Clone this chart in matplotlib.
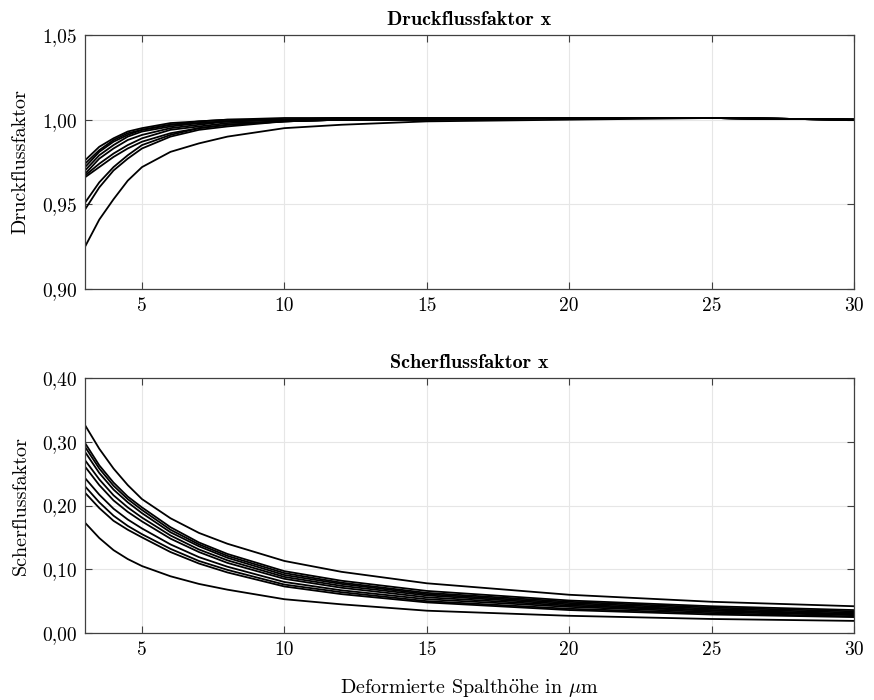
import matplotlib
matplotlib.use("Agg")
import matplotlib.pyplot as plt
from matplotlib.ticker import FuncFormatter

plt.rcParams['font.family'] = ['cmr10', 'DejaVu Serif']
plt.rcParams['mathtext.fontset'] = 'cm'
plt.rcParams['axes.unicode_minus'] = False

# Spalthöhe in um
h = [3, 3.5, 4, 4.5, 5, 6, 7, 8, 10, 12, 15, 20, 25, 30]

# Druckflussfaktor je Oberfläche
phi_p = [
    [0.976, 0.984, 0.989, 0.993, 0.995, 0.998, 0.999, 1.000, 1.001, 1.001, 1.001, 1.001, 1.001, 1.000],
    [0.974, 0.982, 0.988, 0.992, 0.994, 0.997, 0.999, 1.000, 1.000, 1.001, 1.001, 1.001, 1.001, 1.000],
    [0.972, 0.981, 0.987, 0.991, 0.994, 0.997, 0.998, 0.999, 1.000, 1.001, 1.001, 1.001, 1.001, 1.000],
    [0.970, 0.979, 0.985, 0.990, 0.993, 0.996, 0.998, 0.999, 1.000, 1.000, 1.001, 1.001, 1.001, 1.000],
    [0.968, 0.977, 0.983, 0.988, 0.991, 0.995, 0.997, 0.999, 1.000, 1.000, 1.001, 1.001, 1.001, 1.000],
    [0.967, 0.974, 0.980, 0.985, 0.989, 0.994, 0.996, 0.998, 0.999, 1.000, 1.000, 1.001, 1.001, 1.000],
    [0.966, 0.972, 0.978, 0.983, 0.987, 0.992, 0.995, 0.997, 0.999, 1.000, 1.000, 1.001, 1.001, 1.000],
    [0.951, 0.963, 0.972, 0.979, 0.985, 0.991, 0.995, 0.997, 0.999, 1.000, 1.000, 1.001, 1.001, 1.000],
    [0.947, 0.960, 0.970, 0.977, 0.983, 0.990, 0.994, 0.996, 0.999, 1.000, 1.000, 1.001, 1.001, 1.000],
    [0.925, 0.941, 0.953, 0.964, 0.972, 0.981, 0.986, 0.990, 0.995, 0.997, 0.999, 1.000, 1.001, 1.000],
]

# Scherflussfaktor je Oberfläche
phi_s = [
    [0.326, 0.289, 0.258, 0.232, 0.210, 0.180, 0.157, 0.140, 0.113, 0.096, 0.078, 0.060, 0.049, 0.042],
    [0.298, 0.263, 0.236, 0.214, 0.197, 0.166, 0.142, 0.124, 0.097, 0.082, 0.066, 0.051, 0.042, 0.036],
    [0.292, 0.258, 0.231, 0.210, 0.193, 0.162, 0.139, 0.121, 0.094, 0.079, 0.063, 0.049, 0.040, 0.034],
    [0.284, 0.251, 0.225, 0.205, 0.188, 0.158, 0.136, 0.118, 0.091, 0.077, 0.061, 0.047, 0.038, 0.032],
    [0.271, 0.241, 0.216, 0.197, 0.181, 0.153, 0.131, 0.114, 0.088, 0.074, 0.059, 0.045, 0.036, 0.030],
    [0.261, 0.232, 0.208, 0.190, 0.175, 0.148, 0.127, 0.110, 0.085, 0.071, 0.056, 0.043, 0.035, 0.029],
    [0.243, 0.217, 0.195, 0.178, 0.164, 0.139, 0.119, 0.104, 0.080, 0.067, 0.053, 0.041, 0.033, 0.028],
    [0.230, 0.205, 0.184, 0.168, 0.155, 0.132, 0.113, 0.099, 0.076, 0.064, 0.050, 0.038, 0.031, 0.026],
    [0.220, 0.196, 0.176, 0.162, 0.150, 0.127, 0.109, 0.095, 0.073, 0.061, 0.048, 0.036, 0.029, 0.025],
    [0.173, 0.149, 0.130, 0.116, 0.105, 0.089, 0.077, 0.068, 0.053, 0.045, 0.035, 0.027, 0.022, 0.019],
]

x_ticks = [5, 10, 15, 20, 25, 30]
y_ticks_p = [0.90, 0.95, 1.00, 1.05]
y_ticks_s = [0.0, 0.1, 0.2, 0.3, 0.4]

komma = FuncFormatter(lambda v, pos: f"{v:.2f}".replace('.', ','))

fig = plt.figure(figsize=(8.74, 7), dpi=100)
ax1 = fig.add_axes([0.0973, 0.5871, 0.8798, 0.3629])
ax2 = fig.add_axes([0.0973, 0.0957, 0.8798, 0.3643])


def style(ax):
    ax.set_xlim(3, 30)
    ax.set_xticks(x_ticks)
    ax.grid(True, color='#e6e6e6', linewidth=0.8)
    ax.set_axisbelow(True)
    ax.tick_params(direction='in', top=True, right=True, length=5,
                   width=0.8, color='#404040', labelsize=14, pad=6)
    for s in ax.spines.values():
        s.set_color('#404040')
        s.set_linewidth(0.9)
    ax.yaxis.set_major_formatter(komma)


for y in phi_p:
    ax1.plot(h, y, color='black', linewidth=1.3)
style(ax1)
ax1.set_ylim(0.90, 1.05)
ax1.set_yticks(y_ticks_p)
ax1.set_ylabel('Druckflussfaktor', fontsize=14.5, labelpad=9)
ax1.set_title('Druckflussfaktor x', fontsize=14.5, family='cmb10', pad=7)

for y in phi_s:
    ax2.plot(h, y, color='black', linewidth=1.3)
style(ax2)
ax2.set_ylim(0.0, 0.4)
ax2.set_yticks(y_ticks_s)
ax2.set_ylabel('Scherflussfaktor', fontsize=14.5, labelpad=9)
ax2.set_title('Scherflussfaktor x', fontsize=14.5, family='cmb10', pad=7)
ax2.set_xlabel(r'Deformierte Spalth$\mathrm{\ddot{o}}$he in $\mu$m',
               fontsize=14.5, labelpad=13)

fig.savefig('out.png', dpi=100)
